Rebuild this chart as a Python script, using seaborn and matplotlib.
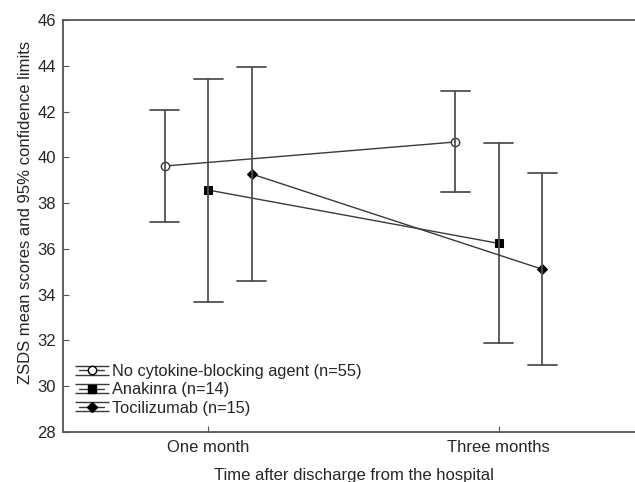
import numpy as np
import pandas as pd
import matplotlib
matplotlib.use("Agg")
import matplotlib.pyplot as plt
import seaborn as sns
from matplotlib.legend_handler import HandlerErrorbar
from matplotlib.container import ErrorbarContainer

# ---- data ----
timepoints = ["One month", "Three months"]
groups = ["No cytokine-blocking agent (n=55)", "Anakinra (n=14)", "Tocilizumab (n=15)"]
mean_none = [39.62, 40.67]
lo_none = [37.19, 38.50]
hi_none = [42.07, 42.88]
mean_ana = [38.57, 36.24]
lo_ana = [33.70, 31.90]
hi_ana = [43.42, 40.64]
mean_toc = [39.27, 35.11]
lo_toc = [34.60, 30.92]
hi_toc = [43.96, 39.32]
yticks = [28, 30, 32, 34, 36, 38, 40, 42, 44, 46]

rows = []
for g, m, lo, hi in [(groups[0], mean_none, lo_none, hi_none),
                     (groups[1], mean_ana, lo_ana, hi_ana),
                     (groups[2], mean_toc, lo_toc, hi_toc)]:
    for t, mv, lv, hv in zip(timepoints, m, lo, hi):
        for v in (lv, mv, hv):
            rows.append({"time": t, "group": g, "score": v})
df = pd.DataFrame(rows)

sns.set_style("ticks")
plt.rcParams["font.family"] = ["Liberation Sans", "DejaVu Sans"]
plt.rcParams["font.size"] = 12

fig = plt.figure(figsize=(6.35, 4.82), dpi=100)
ax = fig.add_axes([63 / 635, 1 - 432 / 482, (644 - 63) / 635, 412 / 482])

line_c = "#3a3a3a"
sns.pointplot(data=df, x="time", y="score", hue="group", order=timepoints,
              hue_order=groups, estimator="median",
              errorbar=lambda v: (np.min(v), np.max(v)),
              dodge=0.3, markers=["o", "s", "D"], linestyles=["-", "-", "-"],
              palette=[line_c] * 3, capsize=0.1, err_kws={"linewidth": 1.3, "color": "#505050"},
              linewidth=1.0, markersize=6, legend=False, ax=ax)

# style the markers
for ln in ax.lines:
    mk = ln.get_marker()
    if mk == "o":
        ln.set_markerfacecolor("white")
        ln.set_markeredgecolor("#333333")
        ln.set_markersize(6)
        ln.set_markeredgewidth(1.0)
    elif mk == "s":
        ln.set_markerfacecolor("black")
        ln.set_markeredgecolor("black")
        ln.set_markersize(6)
    elif mk == "D":
        ln.set_markerfacecolor("black")
        ln.set_markeredgecolor("black")
        ln.set_markersize(5)

ax.set_xlim(-0.5, 1.5)
ax.set_ylim(28, 46)
ax.set_yticks(yticks)
ax.set_xlabel("Time after discharge from the hospital", fontsize=12, labelpad=9)
ax.set_ylabel("ZSDS mean scores and 95% confidence limits", fontsize=12)
ax.yaxis.set_label_coords(-0.052, 0.532)
ax.tick_params(axis="both", direction="in", length=4, width=0.8, color="#555555",
               labelsize=12)
ax.tick_params(axis="x", pad=6)
ax.tick_params(axis="y", pad=5)
for side in ["left", "bottom", "top"]:
    ax.spines[side].set_visible(True)
    ax.spines[side].set_color("#555555")
    ax.spines[side].set_linewidth(1.3)
ax.spines["right"].set_visible(False)

# legend with errorbar symbols
handles = []
specs = [("o", "white", 6), ("s", "black", 6), ("D", "black", 5)]
for (mk, fc, ms), g in zip(specs, groups):
    h = ax.errorbar([np.nan], [np.nan], yerr=[[1], [1]], fmt=mk, color=line_c,
                    mfc=fc, mec="black", ms=ms, capsize=12, elinewidth=1.0,
                    linestyle="-", linewidth=1.0, label=g)
    handles.append(h)
leg = ax.legend(handles=handles, labels=groups, loc="lower left",
                bbox_to_anchor=(0.0, 0.0), frameon=False, fontsize=11.8,
                handlelength=1.5, handletextpad=0.5, labelspacing=0.2,
                borderaxespad=0.6, borderpad=0.4,
                handler_map={ErrorbarContainer: HandlerErrorbar(xerr_size=0.28, yerr_size=0.28)})

fig.savefig("out.png", dpi=100)
